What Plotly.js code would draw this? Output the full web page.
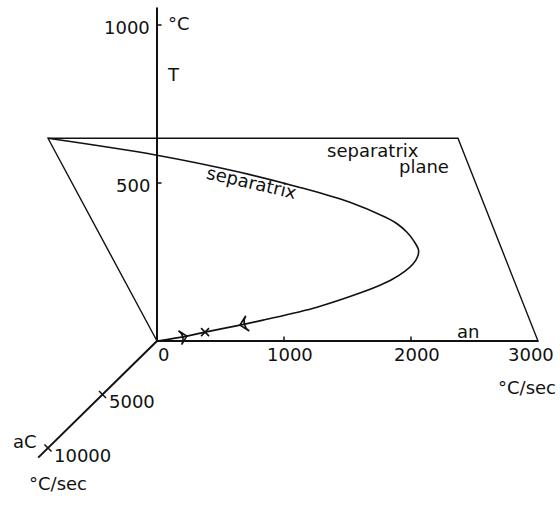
<!DOCTYPE html>
<html>
<head>
<meta charset="utf-8">
<script src="https://cdn.plot.ly/plotly-3.0.1.min.js"></script>
<style>
  html, body { margin: 0; padding: 0; background: #fff; }
  #chart { width: 560px; height: 505px; }
</style>
</head>
<body>
<div id="chart"></div>
<script>
// Phase-space sketch: axes aN (°C/sec), aC (°C/sec) and T (°C),
// the separatrix plane and the separatrix trajectory lying in it.

// Axis extents (data units)
const axisAN = [0, 3000];
const axisAC = [0, 10900];
const axisT = [0, 1055];

// Tick values and labels
const ticksAN = [0, 1000, 2000, 3000];
const ticksANLabels = ['0', '1000', '2000', '3000'];
const ticksAC = [5000, 10000];
const ticksACLabels = ['5000', '10000'];
const ticksT = [500, 1000];
const ticksTLabels = ['500', '1000'];

// Separatrix plane corners (aN, aC, T)
const planeAN = [0, 3000, 3228, 0, 0];
const planeAC = [0, 0, 10000, 10000, 0];
const planeT = [0, 0, 980, 980, 0];

// Separatrix trajectory (aN, aC, T)
const sepAN = [0, 786, 1368, 1777, 2107, 2320, 2387, 2429, 2446, 2444, 2406, 2341, 2249, 2110, 1993, 1801, 1404, 923, 721, 416, 257, 0];
const sepAC = [10000, 9160, 8330, 7590, 6850, 6110, 5790, 5370, 4930, 4480, 4140, 3790, 3450, 3030, 2760, 2370, 1680, 1030, 790, 440, 250, 0];
const sepT = [980, 898, 816, 743, 671, 599, 567, 526, 483, 439, 406, 372, 338, 297, 270, 232, 164, 101, 77, 43, 24, 0];

// Flow markers on the trajectory: indices into the separatrix arrays
const arrowInbound = [18];   // flow heading toward the fixed point
const fixedPoint = [19];     // fixed point on the trajectory
const arrowOutbound = [20];  // flow heading away from the origin

// Oblique projection onto the page (x right, y down)
const X0 = 157, Y0 = 341;
const SX_N = 0.127;   // px per °C/sec along aN
const SX_C = 0.0109;  // px left per °C/sec along aC
const SY_C = 0.0107;  // px down per °C/sec along aC
const SY_T = 0.316;   // px up per °C along T
function proj(n, c, t) {
  return [X0 + n * SX_N - c * SX_C, Y0 - t * SY_T + c * SY_C];
}
function projArrays(ns, cs, ts) {
  const xs = [], ys = [];
  for (let i = 0; i < ns.length; i++) {
    const p = proj(ns[i], cs[i], ts[i]);
    xs.push(p[0]); ys.push(p[1]);
  }
  return { x: xs, y: ys };
}
function seg(a, b) {
  const p = proj(a[0], a[1], a[2]), q = proj(b[0], b[1], b[2]);
  return { x: [p[0], q[0], null], y: [p[1], q[1], null] };
}
function concat(parts) {
  const x = [], y = [];
  parts.forEach(s => { x.push(...s.x); y.push(...s.y); });
  return { x, y };
}

const FONT = 'DejaVu Sans, Arial, sans-serif';
const INK = '#111';

// Axes
const axes = concat([
  seg([axisAN[0], 0, 0], [axisAN[1], 0, 0]),
  seg([0, axisAC[0], 0], [0, axisAC[1], 0]),
  seg([0, 0, axisT[0]], [0, 0, axisT[1]])
]);

// Tick marks
const tickParts = [];
ticksAN.slice(1, -1).forEach(v => tickParts.push(seg([v, 0, 0], [v, 0, 14])));
ticksT.forEach(v => tickParts.push(seg([0, 0, v], [36, 0, v])));
ticksAC.forEach(v => tickParts.push(seg([-28, v, 11], [28, v, -11])));
const ticks = concat(tickParts);

const plane = projArrays(planeAN, planeAC, planeT);
const sep = projArrays(sepAN, sepAC, sepT);

function pick(idx) {
  return {
    x: idx.map(i => proj(sepAN[i], sepAC[i], sepT[i])[0]),
    y: idx.map(i => proj(sepAN[i], sepAC[i], sepT[i])[1])
  };
}
const pIn = pick(arrowInbound), pOut = pick(arrowOutbound), pFix = pick(fixedPoint);

const traces = [
  { type: 'scatter', mode: 'lines', x: plane.x, y: plane.y,
    line: { color: INK, width: 1.4 }, hoverinfo: 'skip' },
  { type: 'scatter', mode: 'lines', x: axes.x, y: axes.y,
    line: { color: INK, width: 2 }, hoverinfo: 'skip' },
  { type: 'scatter', mode: 'lines', x: ticks.x, y: ticks.y,
    line: { color: INK, width: 1.5 }, hoverinfo: 'skip' },
  { type: 'scatter', mode: 'lines', x: sep.x, y: sep.y,
    line: { color: INK, width: 1.6, shape: 'spline', smoothing: 1 }, hoverinfo: 'skip' },
  { type: 'scatter', mode: 'markers', x: pIn.x, y: pIn.y,
    marker: { symbol: 'arrow-wide-open', size: 11, angle: 257, color: INK,
              line: { color: INK, width: 1.6 } }, hoverinfo: 'skip' },
  { type: 'scatter', mode: 'markers', x: pOut.x, y: pOut.y,
    marker: { symbol: 'arrow-wide-open', size: 10, angle: 77, color: INK,
              line: { color: INK, width: 1.6 } }, hoverinfo: 'skip' },
  { type: 'scatter', mode: 'markers', x: pFix.x, y: pFix.y,
    marker: { symbol: 'x-thin-open', size: 8, color: INK,
              line: { color: INK, width: 1.6 } }, hoverinfo: 'skip' }
];

const annotations = [];
function label(text, x, y, opts) {
  annotations.push(Object.assign({
    text: text, x: x, y: y, xref: 'x', yref: 'y', showarrow: false,
    xanchor: 'center', yanchor: 'middle',
    font: { family: FONT, size: 18, color: INK }
  }, opts || {}));
}

// Tick labels
ticksAN.forEach((v, i) => {
  const p = proj(v, 0, 0);
  if (p[0] + 30 > 556) label(ticksANLabels[i], 556, p[1] + 13, { xanchor: 'right' });
  else label(ticksANLabels[i], p[0] + 6, p[1] + 13);
});
ticksT.forEach((v, i) => {
  const p = proj(0, 0, v);
  label(ticksTLabels[i], p[0] - 5, p[1] + 2, { xanchor: 'right' });
});
ticksAC.forEach((v, i) => {
  const p = proj(0, v, 0);
  label(ticksACLabels[i], p[0] + 4, p[1] + 7, { xanchor: 'left' });
});

// Axis names and units
label('°C', 166, 23, { xanchor: 'left' });
label('T', 165, 74, { xanchor: 'left' });
label('an', 468, 331);
label('aC', 25, 441);
label('°C/sec', 527, 387);
label('°C/sec', 58, 483);

// Curve and plane names
label('separatrix', 252, 182, { textangle: 13 });
label('separatrix', 373, 150);
label('plane', 424, 166);

const layout = {
  width: 560, height: 505,
  margin: { l: 0, r: 0, t: 0, b: 0 },
  paper_bgcolor: '#fff', plot_bgcolor: '#fff',
  showlegend: false,
  xaxis: { range: [0, 560], visible: false, fixedrange: true },
  yaxis: { range: [505, 0], visible: false, fixedrange: true },
  annotations: annotations
};

Plotly.newPlot('chart', traces, layout, { staticPlot: true, displayModeBar: false });
</script>
</body>
</html>
